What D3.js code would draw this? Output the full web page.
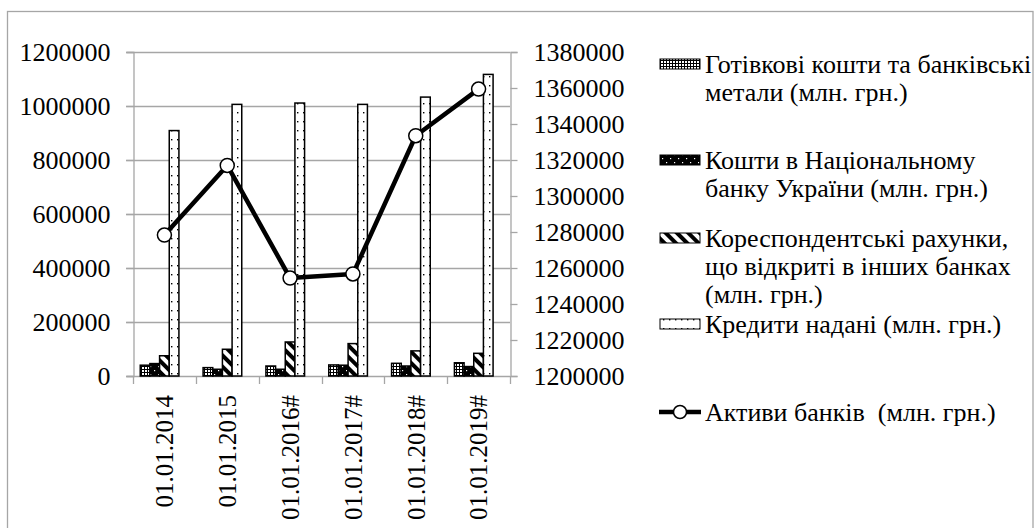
<!DOCTYPE html>
<html>
<head>
<meta charset="utf-8">
<script src="https://cdn.jsdelivr.net/npm/d3@7"></script>
<style>
  body { margin: 0; background: #fff; }
</style>
</head>
<body>
<svg id="chart"></svg>
<script>
var categories = ["01.01.2014", "01.01.2015", "01.01.2016#", "01.01.2017#", "01.01.2018#", "01.01.2019#"];
var cash = [40000, 31000, 37000, 41000, 47000, 49000];
var nbu = [46000, 25000, 25000, 40000, 37000, 35000];
var corr = [75000, 99000, 126000, 120000, 93000, 84000];
var loans = [909000, 1006000, 1011000, 1006000, 1033000, 1117000];
var assets = [1278300, 1317000, 1254400, 1256700, 1333500, 1359400];

var leftTicks = [0, 200000, 400000, 600000, 800000, 1000000, 1200000];
var rightTicks = d3.range(1200000, 1380001, 20000);

var legendLines = [
  ["Готівкові кошти та банківські", "метали (млн. грн.)"],
  ["Кошти в Національному", "банку України (млн. грн.)"],
  ["Кореспондентські рахунки,", "що відкриті в інших банках", "(млн. грн.)"],
  ["Кредити надані (млн. грн.)"]
];
var lineName = "Активи банків  (млн. грн.)";

// pick the first serif face that is really installed
function hasFont(name) {
  var c = document.createElement("canvas").getContext("2d");
  var s = "Готівкові 0123456789 abcdefghijklmnop";
  return ["monospace", "sans-serif"].some(function(base) {
    c.font = "72px " + base;
    var w0 = c.measureText(s).width;
    c.font = "72px '" + name + "', " + base;
    return c.measureText(s).width !== w0;
  });
}
var serifCandidates = ["Liberation Serif", "Tinos", "Times New Roman", "Noto Serif", "DejaVu Serif", "FreeSerif", "Times"];
var found = serifCandidates.filter(hasFont);
var serif = (found.length ? "'" + found[0] + "', " : "") + "serif";

var width = 1034, height = 528;
var svg = d3.select("#chart").attr("width", width).attr("height", height)
  .style("font-family", serif);

var plot = { left: 133, right: 510, top: 52, bottom: 376 };
var grey = "#a6a6a6";
var fs = 26;

// patterns
var defs = svg.append("defs");
var p1 = defs.append("pattern").attr("id", "p1").attr("patternUnits", "userSpaceOnUse")
  .attr("width", 3).attr("height", 3);
p1.append("rect").attr("width", 3).attr("height", 3).attr("fill", "#fff");
p1.append("rect").attr("width", 3).attr("height", 1).attr("fill", "#000");
p1.append("rect").attr("width", 1).attr("height", 3).attr("fill", "#000");

var p2 = defs.append("pattern").attr("id", "p2").attr("patternUnits", "userSpaceOnUse")
  .attr("width", 8).attr("height", 8);
p2.append("rect").attr("width", 8).attr("height", 8).attr("fill", "#000");
p2.append("rect").attr("x", 2).attr("y", 2).attr("width", 1.2).attr("height", 1.2).attr("fill", "#fff");
p2.append("rect").attr("x", 6).attr("y", 6).attr("width", 1.2).attr("height", 1.2).attr("fill", "#fff");

var p3 = defs.append("pattern").attr("id", "p3").attr("patternUnits", "userSpaceOnUse")
  .attr("width", 8).attr("height", 8).attr("patternTransform", "rotate(-45)");
p3.append("rect").attr("width", 8).attr("height", 8).attr("fill", "#fff");
p3.append("rect").attr("width", 4).attr("height", 8).attr("fill", "#000");

var p4 = defs.append("pattern").attr("id", "p4").attr("patternUnits", "userSpaceOnUse")
  .attr("width", 6).attr("height", 9);
p4.append("rect").attr("width", 6).attr("height", 9).attr("fill", "#fff");
p4.append("rect").attr("x", 3).attr("y", 4).attr("width", 1.4).attr("height", 1.4).attr("fill", "#000");

var fills = ["url(#p1)", "url(#p2)", "url(#p3)", "url(#p4)"];

// outer border
svg.append("rect").attr("x", 7.5).attr("y", 11.5).attr("width", 1025.5).attr("height", 530)
  .attr("fill", "none").attr("stroke", grey).attr("stroke-width", 1.3);

// scales
var x0 = d3.scaleBand().domain(categories).range([plot.left, plot.right]).padding(0);
var x1 = d3.scaleBand().domain([0, 1, 2, 3, 4]).range([0, x0.bandwidth()])
  .paddingInner(0).paddingOuter(0.75);
var y = d3.scaleLinear().domain([0, 1200000]).range([plot.bottom, plot.top]);
var y2 = d3.scaleLinear().domain([1200000, 1380000]).range([plot.bottom, plot.top]);

// gridlines
svg.append("g").selectAll("line").data(leftTicks).join("line")
  .attr("x1", plot.left - 7).attr("x2", plot.right)
  .attr("y1", d => Math.round(y(d)) + 0.5).attr("y2", d => Math.round(y(d)) + 0.5)
  .attr("stroke", grey).attr("stroke-width", 1.3);

// left axis
var leftAxis = svg.append("g").attr("transform", "translate(" + (plot.left + 0.5) + ",0)")
  .call(d3.axisLeft(y).tickValues(leftTicks).tickSize(7).tickPadding(16).tickFormat(d3.format("d")))
  .attr("font-family", null);
leftAxis.select(".domain").attr("stroke", grey).attr("stroke-width", 1.3);
leftAxis.selectAll(".tick line").attr("stroke", grey).attr("stroke-width", 1.3);
leftAxis.selectAll("text").attr("font-size", fs);

// right axis
var rightAxis = svg.append("g").attr("transform", "translate(" + (plot.right + 0.5) + ",0)")
  .call(d3.axisRight(y2).tickValues(rightTicks).tickSize(7).tickPadding(16).tickFormat(d3.format("d")))
  .attr("font-family", null);
rightAxis.select(".domain").attr("stroke", grey).attr("stroke-width", 1.3);
rightAxis.selectAll(".tick line").attr("stroke", grey).attr("stroke-width", 1.3);
rightAxis.selectAll("text").attr("font-size", fs);

// bottom axis: ticks at category boundaries
var bounds = categories.map(c => x0(c)).concat([plot.right]);
svg.append("g").selectAll("line").data(bounds).join("line")
  .attr("x1", d => Math.round(d) + 0.5).attr("x2", d => Math.round(d) + 0.5)
  .attr("y1", plot.bottom).attr("y2", plot.bottom + 8)
  .attr("stroke", grey).attr("stroke-width", 1.3);

svg.append("g").selectAll("text").data(categories).join("text")
  .attr("transform", d => "translate(" + (x0(d) + x0.bandwidth() / 2) + "," + (plot.bottom + 19) + ") rotate(-90)")
  .attr("text-anchor", "end").attr("dy", "0.35em").attr("font-size", 25)
  .text(d => d);

// bars
var barData = [];
categories.forEach(function(c, i) {
  [cash, nbu, corr, loans].forEach(function(s, k) {
    barData.push({ cat: c, k: k, v: s[i] });
  });
});
svg.append("g").selectAll("rect").data(barData).join("rect")
  .attr("x", d => x0(d.cat) + x1(d.k))
  .attr("y", d => y(d.v))
  .attr("width", x1.bandwidth())
  .attr("height", d => y(0) - y(d.v))
  .attr("fill", d => fills[d.k])
  .attr("stroke", "#000").attr("stroke-width", 1.5);

// line
var line = d3.line().x((d, i) => x0(categories[i]) + x0.bandwidth() / 2).y(d => y2(d));
svg.append("path").datum(assets).attr("d", line)
  .attr("fill", "none").attr("stroke", "#000").attr("stroke-width", 4.5).attr("stroke-linejoin", "round");
svg.append("g").selectAll("circle").data(assets).join("circle")
  .attr("cx", (d, i) => x0(categories[i]) + x0.bandwidth() / 2)
  .attr("cy", d => y2(d)).attr("r", 7)
  .attr("fill", "#fff").attr("stroke", "#000").attr("stroke-width", 1.5);

// legend
var legendY = [64, 160, 238, 324];
var lg = svg.append("g");
legendLines.forEach(function(lines, k) {
  lg.append("rect").attr("x", 660).attr("y", legendY[k] - 5).attr("width", 40).attr("height", 10)
    .attr("fill", fills[k]).attr("stroke", "#000").attr("stroke-width", 1);
  var t = lg.append("text").attr("x", 705).attr("y", legendY[k]).attr("font-size", fs);
  lines.forEach(function(l, j) {
    t.append("tspan").attr("x", 705).attr("dy", j === 0 ? "0.35em" : "1.08em").text(l);
  });
});
var lineY = 412;
lg.append("line").attr("x1", 659).attr("x2", 701).attr("y1", lineY).attr("y2", lineY)
  .attr("stroke", "#000").attr("stroke-width", 4.5);
lg.append("circle").attr("cx", 680).attr("cy", lineY).attr("r", 6.5)
  .attr("fill", "#fff").attr("stroke", "#000").attr("stroke-width", 1.5);
lg.append("text").attr("x", 705).attr("y", lineY).attr("dy", "0.35em").attr("font-size", fs)
  .style("white-space", "pre").text(lineName);
</script>
</body>
</html>
